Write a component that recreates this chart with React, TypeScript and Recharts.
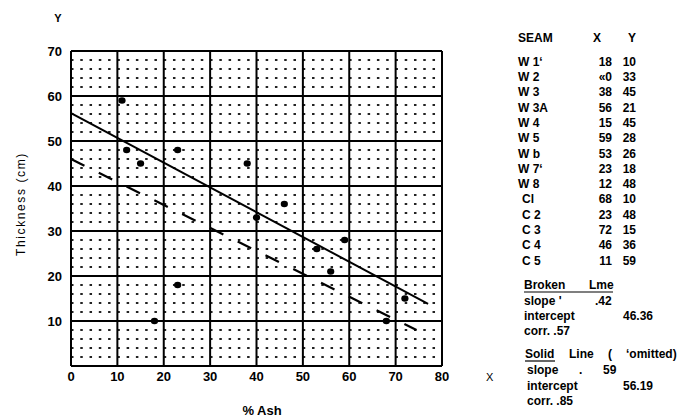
import React from 'react';
import { ComposedChart, Scatter, XAxis, YAxis, ReferenceLine } from 'recharts';

// seam table (as printed on the sheet)
const seams = ['W 1‘', 'W 2', 'W 3', 'W 3A', 'W 4', 'W 5', 'W b', 'W 7‘', 'W 8', 'Cl', 'C 2', 'C 3', 'C 4', 'C 5'];
const seamX = [18, 40, 38, 56, 15, 59, 53, 23, 12, 68, 23, 72, 46, 11];
const seamY = [10, 33, 45, 21, 45, 28, 26, 18, 48, 10, 48, 15, 36, 59];
const xLabels = ['18', '«0', '38', '56', '15', '59', '53', '23', '12', '68', '23', '72', '46', '11'];

const xTicks = [0, 10, 20, 30, 40, 50, 60, 70, 80];
const yTicks = [10, 20, 30, 40, 50, 60, 70];
const majorX = [0, 10, 20, 30, 40, 50, 60, 70, 80];
const majorY = [0, 10, 20, 30, 40, 50, 60, 70];
const minorY = [2, 4, 6, 8, 12, 14, 16, 18, 22, 24, 26, 28, 32, 34, 36, 38, 42, 44, 46, 48, 52, 54, 56, 58, 62, 64, 66, 68];

// fitted lines as drawn on the sheet
const solidX = [0, 77];
const solidY = [56.2, 13.8];
const brokenX = [0, 74.5];
const brokenY = [46, 8];

const points = seamX.map((x, i) => ({ x, y: seamY[i] }));
const solidLine = solidX.map((x, i) => ({ x, y: solidY[i] }));
const brokenLine = brokenX.map((x, i) => ({ x, y: brokenY[i] }));

const font = '"Liberation Sans", Arial, sans-serif';
const tickStyle = { fill: '#000', fontSize: 13, fontWeight: 700, fontFamily: font };

const Dot = (props: any) => <ellipse cx={props.cx} cy={props.cy} rx={3.6} ry={3.3} fill="#000" />;
const NoDot = () => <g />;

export default function App() {
  return (
    <div style={{ position: 'absolute', left: 0, top: 0, width: 677, height: 419, background: '#fff' }}>
      <ComposedChart width={677} height={419} margin={{ top: 51, right: 235, bottom: 23, left: 0 }}>
        <XAxis
          type="number"
          dataKey="x"
          domain={[0, 80]}
          ticks={xTicks}
          tick={tickStyle}
          tickSize={0}
          tickMargin={6}
          axisLine={false}
          height={30}
        />
        <YAxis
          type="number"
          dataKey="y"
          domain={[0, 70]}
          ticks={yTicks}
          tick={tickStyle}
          tickSize={0}
          tickMargin={9}
          axisLine={false}
          width={71}
        />
        {minorY.map((v) => (
          <ReferenceLine key={'my' + v} y={v} stroke="#222" strokeWidth={2} strokeDasharray="2.5 6.77" />
        ))}
        {majorX.map((v) => (
          <ReferenceLine key={'MX' + v} x={v} stroke="#000" strokeWidth={2} />
        ))}
        {majorY.map((v) => (
          <ReferenceLine key={'MY' + v} y={v} stroke="#000" strokeWidth={2} />
        ))}
        <Scatter data={solidLine} line={{ stroke: '#000', strokeWidth: 2 }} shape={NoDot} isAnimationActive={false} />
        <Scatter
          data={brokenLine}
          line={{ stroke: '#000', strokeWidth: 2.2, strokeDasharray: '15 16' }}
          shape={NoDot}
          isAnimationActive={false}
        />
        <Scatter data={points} shape={Dot} isAnimationActive={false} />
      </ComposedChart>

      <svg
        width={677}
        height={419}
        style={{ position: 'absolute', left: 0, top: 0, pointerEvents: 'none' }}
        fontFamily={font}
        fontWeight={700}
        fontSize={12}
      >
        <text x={58} y={22} textAnchor="middle" fontSize={11}>Y</text>
        <text
          x={0}
          y={0}
          transform="translate(25 204) rotate(-90)"
          textAnchor="middle"
          fontSize={12}
          fontWeight={400}
          letterSpacing={1.6}
        >
          Thickness  (cm)
        </text>
        <text x={262} y={415} textAnchor="middle" fontSize={13}>% Ash</text>

        <text x={518} y={42}>SEAM</text>
        <text x={597} y={42} textAnchor="middle">X</text>
        <text x={632} y={42} textAnchor="middle">Y</text>
        {seams.map((s, i) => (
          <g key={s}>
            <text x={i < 9 ? 518 : 522} y={65.7 + i * 15.3}>{s}</text>
            <text x={612} y={65.7 + i * 15.3} textAnchor="end">{xLabels[i]}</text>
            <text x={636} y={65.7 + i * 15.3} textAnchor="end">{seamY[i]}</text>
          </g>
        ))}

        <text x={524} y={289}>Broken</text>
        <text x={589} y={289}>Lme</text>
        <line x1={524} y1={292} x2={613} y2={292} stroke="#000" strokeWidth={1.2} />
        <text x={524} y={305}>slope '</text>
        <text x={595} y={305}>.42</text>
        <text x={524} y={320}>intercept</text>
        <text x={623} y={320}>46.36</text>
        <text x={524} y={335}>corr. .57</text>

        <text x={525} y={358}>Solid</text>
        <line x1={525} y1={361} x2={555} y2={361} stroke="#000" strokeWidth={1.2} />
        <text x={569} y={358}>Line</text>
        <text x={608} y={358}>(</text>
        <text x={626} y={358}>‘omitted)</text>
        <text x={527} y={374}>slope</text>
        <text x={579} y={374}>.</text>
        <text x={603} y={374}>59</text>
        <text x={527} y={390}>intercept</text>
        <text x={623} y={390}>56.19</text>
        <text x={527} y={405}>corr. .85</text>
        <text x={486} y={381} fontWeight={400} fontSize={11}>X</text>
      </svg>
    </div>
  );
}
